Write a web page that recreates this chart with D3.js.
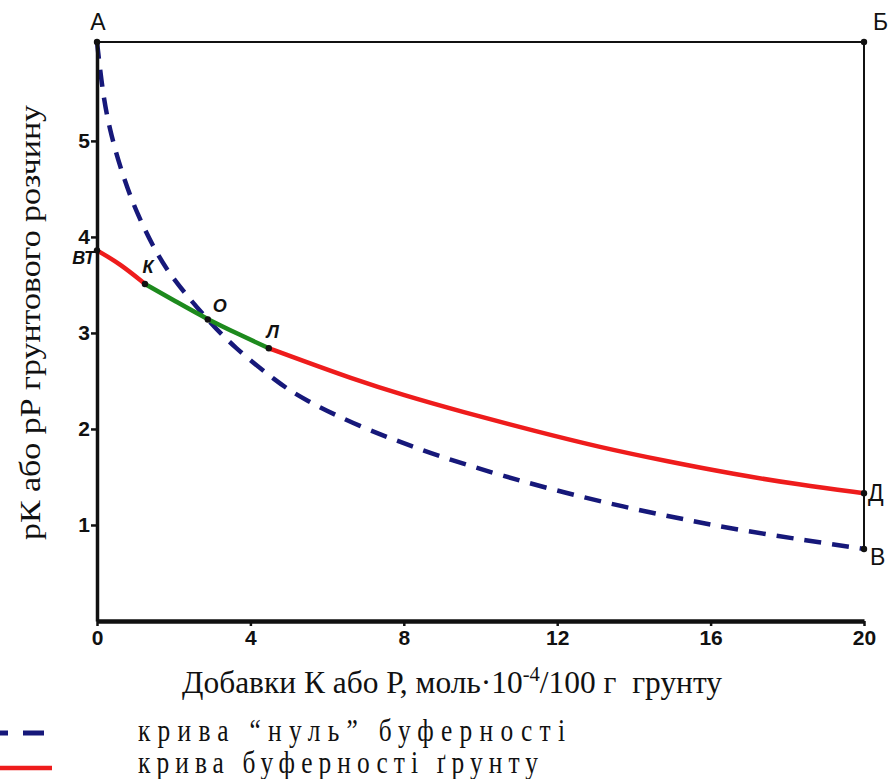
<!DOCTYPE html>
<html><head><meta charset="utf-8">
<script src="https://cdn.jsdelivr.net/npm/d3@7"></script>
<style>body{margin:0;background:#fff}svg{display:block}</style>
</head><body>
<svg id="c" width="888" height="779"></svg>
<script>
// ---- data ----
const xTicks = [0, 4, 8, 12, 16, 20];
const yTicks = [1, 2, 3, 4, 5];
// "zero" buffer curve (dashed)
const nullX = [0, 0.16, 0.34, 0.55, 0.78, 1.04, 1.46, 1.9, 2.87, 3.55, 4.69, 5.37, 6.86, 8.34, 9.13, 10.59, 12.15, 13.72, 15.28, 16.84, 18.51, 20];
const nullY = [6.03, 5.46, 5.11, 4.80, 4.52, 4.25, 3.90, 3.60, 3.14, 2.86, 2.49, 2.31, 2.02, 1.80, 1.69, 1.51, 1.34, 1.19, 1.06, 0.94, 0.84, 0.75];
// soil buffer curve, red part 1 (ВТ -> К)
const red1X = [0, 0.6, 1.25];
const red1Y = [3.86, 3.72, 3.51];
// green part (К -> Л)
const greenX = [1.25, 2.09, 2.89, 3.73, 4.48];
const greenY = [3.51, 3.32, 3.14, 2.98, 2.84];
// red part 2 (Л -> Д)
const red2X = [4.48, 5.3, 6.6, 8.0, 9.5, 11.4, 13.1, 14.9, 16.6, 18.3, 20];
const red2Y = [2.84, 2.72, 2.53, 2.35, 2.18, 1.98, 1.81, 1.66, 1.53, 1.42, 1.33];
// labelled points
const ptNames = ["А", "Б", "Д", "В", "ВТ", "К", "О", "Л"];
const ptX = [0, 20, 20, 20, 0, 1.25, 2.89, 4.48];
const ptY = [6.03, 6.03, 1.33, 0.75, 3.86, 3.51, 3.14, 2.84];
const xLabel = "Добавки К або Р, моль·10";
const xLabelSup = "-4";
const xLabelEnd = "/100 г\u00A0 грунту";
const yLabel = "рК або рР грунтового розчину";
const legendLabels = ["крива “нуль” буферності", "крива буферності ґрунту"];

// ---- chart ----
const SANS = "'Liberation Sans', Arial, sans-serif";
const SERIF = "'Liberation Serif', 'Times New Roman', serif";
const svg = d3.select("#c");
const x = d3.scaleLinear().domain([0, 20]).range([97, 864]);
const y = d3.scaleLinear().domain([0, 6.03]).range([621, 42]);
const blue = "#16187a", red = "#ee1c1c", green = "#1d8a1d";

const zip = (xs, ys) => xs.map((v, i) => [v, ys[i]]);
const line = d3.line().x(d => x(d[0])).y(d => y(d[1])).curve(d3.curveBasis);

// frame: top and right thin lines
svg.append("line").attr("x1", x(0)).attr("x2", x(20)).attr("y1", y(6.03)).attr("y2", y(6.03))
  .attr("stroke", "#111").attr("stroke-width", 2);
svg.append("line").attr("x1", x(20)).attr("x2", x(20)).attr("y1", y(6.03)).attr("y2", y(0.75))
  .attr("stroke", "#111").attr("stroke-width", 2);

// curves
svg.append("path").attr("d", line(zip(nullX, nullY))).attr("fill", "none")
  .attr("stroke", blue).attr("stroke-width", 4.5).attr("stroke-dasharray", "17,11");
svg.append("path").attr("d", line(zip(red1X, red1Y))).attr("fill", "none")
  .attr("stroke", red).attr("stroke-width", 4.5);
svg.append("path").attr("d", line(zip(red2X, red2Y))).attr("fill", "none")
  .attr("stroke", red).attr("stroke-width", 4.5);
svg.append("path").attr("d", line(zip(greenX, greenY))).attr("fill", "none")
  .attr("stroke", green).attr("stroke-width", 4.5);

// axes
const yAxis = svg.append("g").attr("transform", `translate(${x(0)},0)`)
  .call(d3.axisLeft(y).tickValues(yTicks).tickSize(6).tickSizeOuter(0).tickFormat(d3.format("d")));
yAxis.select(".domain").attr("stroke", "#111").attr("stroke-width", 3.5);
yAxis.selectAll(".tick line").attr("stroke", "#111").attr("stroke-width", 2.5);
yAxis.selectAll(".tick text").attr("x", -7).attr("font-family", SANS)
  .attr("font-weight", "bold").attr("font-size", 21).attr("fill", "#111");

const xAxis = svg.append("g").attr("transform", `translate(0,${y(0)})`)
  .call(d3.axisBottom(x).tickValues(xTicks).tickSize(5).tickSizeOuter(0).tickFormat(d3.format("d")));
xAxis.select(".domain").attr("stroke", "#111").attr("stroke-width", 4.5);
xAxis.selectAll(".tick line").attr("stroke", "#111").attr("stroke-width", 2.5);
xAxis.selectAll(".tick text").attr("y", 9).attr("font-family", SANS)
  .attr("font-weight", "bold").attr("font-size", 21).attr("fill", "#111");

// points and labels
const ptOffsets = {
  "А": [1, -12, "middle", "normal"], "Б": [9, -12, "start", "normal"],
  "Д": [4, 8, "start", "normal"], "В": [6, 16, "start", "normal"],
  "ВТ": [-2, 14, "end", "bolditalic"], "К": [3, -11, "middle", "bolditalic"],
  "О": [5, -7, "start", "bolditalic"], "Л": [4, -10, "middle", "bolditalic"]
};
ptNames.forEach((n, i) => {
  const px = x(ptX[i]), py = y(ptY[i]);
  svg.append("circle").attr("cx", px).attr("cy", py).attr("r", 3.2).attr("fill", "#111");
  const o = ptOffsets[n];
  const t = svg.append("text").attr("x", px + o[0]).attr("y", py + o[1]).attr("text-anchor", o[2])
    .attr("font-family", SANS).attr("fill", "#111").text(n);
  if (o[3] === "bolditalic") t.attr("font-weight", "bold").attr("font-style", "italic").attr("font-size", 18);
  else t.attr("font-size", 23);
});

// axis titles
const xt = svg.append("text").attr("x", 182).attr("y", 693)
  .attr("font-family", SERIF).attr("font-size", 32).attr("fill", "#111")
  .attr("textLength", 540).attr("lengthAdjust", "spacingAndGlyphs");
xt.append("tspan").text(xLabel);
xt.append("tspan").attr("dy", -12).attr("font-size", 21).text(xLabelSup);
xt.append("tspan").attr("dy", 12).text(xLabelEnd);

svg.append("text").attr("transform", `translate(40,540) rotate(-90)`)
  .attr("font-family", SERIF).attr("font-size", 30).attr("fill", "#111")
  .attr("textLength", 435).attr("lengthAdjust", "spacingAndGlyphs").text(yLabel);

// legend
const legY = [733, 768];
const legBase = [741, 773];
svg.append("line").attr("x1", 0).attr("x2", 44).attr("y1", legY[0]).attr("y2", legY[0])
  .attr("stroke", blue).attr("stroke-width", 5).attr("stroke-dasharray", "8,15,21,100");
svg.append("line").attr("x1", 0).attr("x2", 52).attr("y1", legY[1]).attr("y2", legY[1])
  .attr("stroke", red).attr("stroke-width", 4.5);
legendLabels.forEach((s, i) => {
  svg.append("text").attr("transform", `translate(138,${legBase[i]}) scale(0.82,1)`)
    .attr("font-family", SERIF).attr("font-size", 31).attr("fill", "#111")
    .attr("textLength", (i === 0 ? 427 : 400) / 0.82).attr("lengthAdjust", "spacing").text(s);
});
</script>
</body></html>
